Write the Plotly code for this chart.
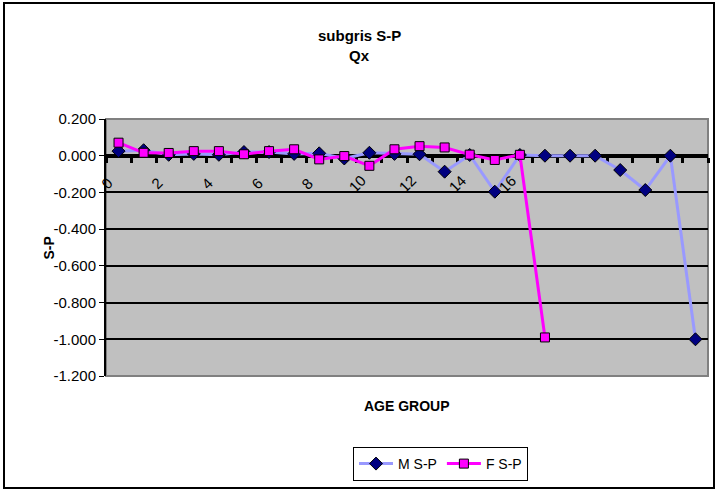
import plotly.graph_objects as go

# ---- data ----
categories = [str(i) for i in range(17)] + [""] * 7   # 24 age groups, labels only for 0..16
m_sp = [0.025, 0.030, 0.005, 0.010, 0.005, 0.020, 0.020, 0.010, 0.013, -0.015,
        0.016, 0.010, 0.008, -0.087, 0.004, -0.196, 0.004, 0.000, 0.000, 0.000,
        -0.078, -0.187, 0.000, -1.000]
f_sp = [0.071, 0.016, 0.015, 0.025, 0.025, 0.008, 0.025, 0.035, -0.020, -0.002,
        -0.055, 0.035, 0.052, 0.045, 0.006, -0.023, 0.005, -0.990]
y_ticks = [0.2, 0.0, -0.2, -0.4, -0.6, -0.8, -1.0, -1.2]

ymin, ymax = -1.2, 0.2
n = len(categories)
xs_m = list(range(len(m_sp)))
xs_f = list(range(len(f_sp)))
label_idx = [i for i in range(0, n, 2) if categories[i] != ""]

FONT = "Liberation Sans, Arial, sans-serif"
W, H = 718, 491
L, R, T, B = 106, 10, 119, 115
PW, PH = W - L - R, H - T - B


def px(xp):
    return (xp - L) / PW


def py(yp):
    return (H - B - yp) / PH


fig = go.Figure()
fig.add_trace(go.Scatter(
    x=xs_m, y=m_sp, name="M S-P", mode="lines+markers",
    line=dict(color="#9999FF", width=3),
    marker=dict(symbol="diamond", size=10, color="#000080",
                line=dict(color="#000000", width=1)),
    cliponaxis=False))
fig.add_trace(go.Scatter(
    x=xs_f, y=f_sp, name="F S-P", mode="lines+markers",
    line=dict(color="#FF00FF", width=3),
    marker=dict(symbol="square", size=9, color="#FF00FF",
                line=dict(color="#000000", width=1)),
    cliponaxis=False))

pos0 = (0 - ymin) / (ymax - ymin)

annotations = [
    dict(text="<b>subgris S-P</b>", xref="paper", yref="paper",
         x=px(359), y=py(35), showarrow=False,
         xanchor="center", yanchor="middle", font=dict(family=FONT, size=15)),
    dict(text="<b>Qx</b>", xref="paper", yref="paper",
         x=px(359), y=py(56), showarrow=False,
         xanchor="center", yanchor="middle", font=dict(family=FONT, size=15)),
    dict(text="<b>AGE GROUP</b>", xref="paper", yref="paper",
         x=0.5, y=py(406), showarrow=False,
         xanchor="center", yanchor="middle", font=dict(family=FONT, size=14)),
    dict(text="<b>S-P</b>", xref="paper", yref="paper", textangle=-90,
         x=px(48), y=0.5, showarrow=False,
         xanchor="center", yanchor="middle", font=dict(family=FONT, size=14)),
]
for i in label_idx:
    annotations.append(dict(
        text=categories[i], xref="x", yref="y", x=i, y=0, showarrow=False,
        textangle=-45, xanchor="center", yanchor="middle",
        xshift=-12, yshift=-28, font=dict(family=FONT, size=15)))

fig.update_layout(
    width=W, height=H,
    margin=dict(l=L, r=R, t=T, b=B),
    paper_bgcolor="white", plot_bgcolor="#C0C0C0",
    font=dict(family=FONT, size=15, color="black"),
    showlegend=True,
    legend=dict(orientation="h", x=px(353), y=py(447),
                xanchor="left", yanchor="top",
                bordercolor="black", borderwidth=1, bgcolor="white",
                font=dict(family=FONT, size=14), itemwidth=34,
                tracegroupgap=0),
    xaxis=dict(
        range=[-0.5, n - 0.5], anchor="free", position=pos0,
        tickmode="array", tickvals=label_idx, showticklabels=False,
        ticks="", showgrid=False, zeroline=False,
        showline=True, linecolor="black", linewidth=4,
        layer="below traces",
        minor=dict(ticks="outside", tick0=-0.5, dtick=1, ticklen=5,
                   tickwidth=3, tickcolor="black", showgrid=False),
    ),
    yaxis=dict(
        range=[ymin, ymax], tickmode="array", tickvals=y_ticks,
        ticktext=[f"{v:.3f}".replace("\u2212", "-") for v in y_ticks],
        ticks="outside", ticklen=5, tickwidth=1,
        tickcolor="black", showline=True, linecolor="black", linewidth=2,
        showgrid=True, gridcolor="#000000", gridwidth=2, zeroline=False,
        tickfont=dict(family=FONT, size=15),
    ),
    shapes=[
        dict(type="rect", xref="paper", yref="paper", x0=0, x1=1, y0=0, y1=1,
             line=dict(color="#808080", width=2), layer="below"),
        dict(type="rect", xref="paper", yref="paper",
             x0=px(4), x1=px(714), y0=py(488), y1=py(3),
             line=dict(color="black", width=2), layer="above"),
    ],
    annotations=annotations,
)

fig.write_html("out.html", config={"displayModeBar": False},
               post_script="document.body.style.margin='0px';")
